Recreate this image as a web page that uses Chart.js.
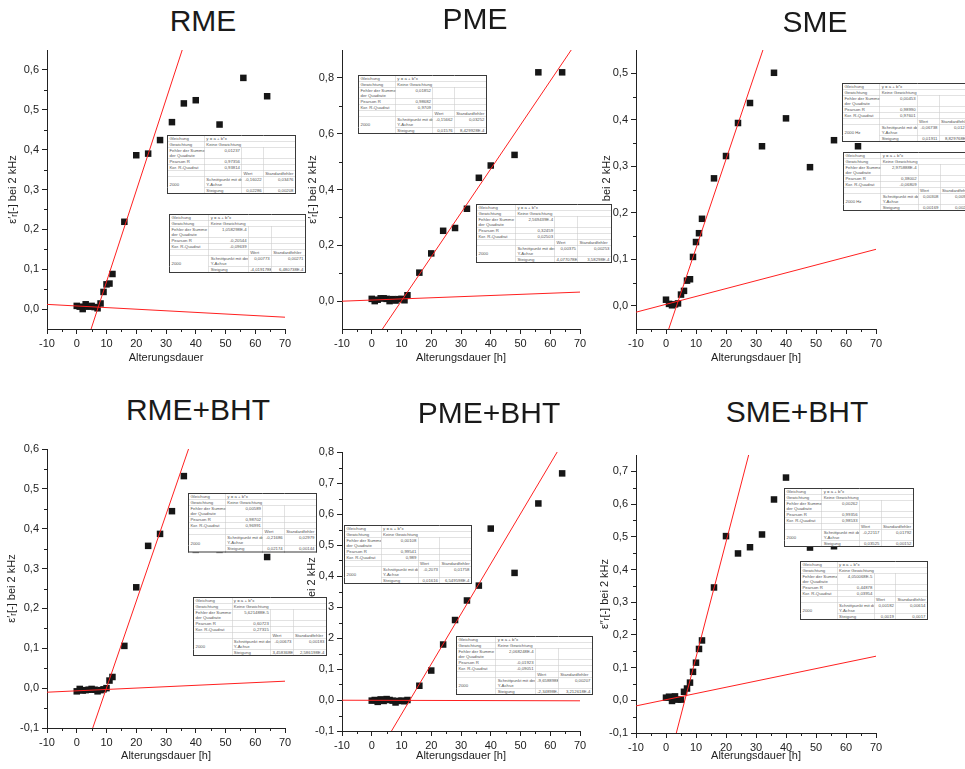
<!DOCTYPE html>
<html lang="de">
<head>
<meta charset="UTF-8">
<title>Alterungsdauer – Permittivität bei 2 kHz</title>
<script src="https://cdn.jsdelivr.net/npm/chart.js"></script>
<style>
  html, body { margin: 0; padding: 0; background: #fff; overflow: hidden; }
  body { position: relative; width: 965px; height: 769px; font-family: "Liberation Sans", Arial, sans-serif; }
  canvas { position: absolute; }
  .ptitle { position: absolute; font-size: 30px; line-height: 1; color: #1a1a1a; white-space: nowrap; transform: translate(-50%, -50%); }
  .fit { position: absolute; transform-origin: 0 0; transform: scale(0.5); background: #fff;
         border-collapse: collapse; table-layout: fixed; border: 2.5px solid #3a3a3a; z-index: 5;
         font-size: 8.6px; color: #555; }
  .fit td { border: 1px solid #c4c4c4; padding: 0 3px; vertical-align: top; line-height: 1.25; white-space: nowrap; overflow: hidden; }
  .fit td.n { text-align: right; }
  .fit td.mid { vertical-align: middle; }
</style>
</head>
<body>
<script>
// x-Achse (Alterungsdauer in h), gemeinsam für alle Diagramme
const xTickValues = [-10, 0, 10, 20, 30, 40, 50, 60, 70];

// RME
const rmeHours  = [0, 1, 2, 3, 4, 5, 6, 7, 8, 9, 10, 11, 12, 16, 20, 24, 28, 32, 36, 40, 48, 56, 64];
const rmeValues = [0.008, 0.006, 0.0, 0.012, 0.006, 0.008, 0.005, 0.002, 0.014, 0.043, 0.062, 0.064, 0.088,
                   0.219, 0.386, 0.39, 0.424, 0.469, 0.516, 0.524, 0.463, 0.58, 0.534];
const rmeYTicks = [0, 0.1, 0.2, 0.3, 0.4, 0.5, 0.6];
const rmeSteepFit = [-0.16022, 0.02286];      // Schnittpunkt, Steigung
const rmeFlatFit  = [0.00773, -4.019178e-4];
const rmeSteepTable = ['0,01237', '0,97356', '0,93814', '-0,16022', '0,03476', '0,02286', '0,00208'];
const rmeFlatTable  = ['1,058298E-4', '-0,20544', '-0,09639', '0,00773', '0,00271', '-4,019178E-4', '6,480738E-4'];

// PME
const pmeHours  = [0, 1, 2, 3, 4, 5, 6, 7, 8, 9, 10, 11, 12, 16, 20, 24, 28, 32, 36, 40, 48, 56, 64];
const pmeValues = [0.008, 0.0, 0.005, 0.01, 0.01, 0.008, 0.0, 0.007, 0.002, 0.007, 0.008, 0.003, 0.021,
                   0.102, 0.171, 0.252, 0.262, 0.331, 0.442, 0.486, 0.524, 0.82, 0.82];
const pmeYTicks = [0, 0.2, 0.4, 0.6, 0.8];
const pmeSteepFit = [-0.15662, 0.01576];
const pmeFlatFit  = [0.00375, 4.077078e-4];
const pmeSteepTable = ['0,01852', '0,98682', '0,9709', '-0,15662', '0,03252', '0,01576', '8,429928E-4'];
const pmeFlatTable  = ['2,569439E-4', '0,32459', '0,02503', '0,00375', '0,00253', '4,077078E-4', '3,58298E-4'];

// SME
const smeHours  = [0, 1, 2, 3, 4, 5, 6, 7, 8, 9, 10, 11, 12, 16, 20, 24, 28, 32, 36, 40, 48, 56, 64];
const smeValues = [0.013, 0.004, 0.001, 0.003, 0.005, 0.024, 0.032, 0.054, 0.057, 0.105, 0.137, 0.156, 0.187,
                   0.274, 0.322, 0.393, 0.436, 0.343, 0.501, 0.403, 0.298, 0.356, 0.343];
const smeYTicks = [0, 0.1, 0.2, 0.3, 0.4, 0.5];
const smeSteepFit = [-0.06738, 0.01911];
const smeFlatFit  = [0.00308, 0.00169];
const smeSteepTable = ['0,00453', '0,98990', '0,97601', '-0,06738', '0,01214', '0,01911', '8,829768E-4'];
const smeFlatTable  = ['2,975888E-4', '0,38002', '-0,06809', '0,00308', '0,00928', '0,00169', '0,00203'];

// RME+BHT
const rmeBhtHours  = [0, 1, 2, 3, 4, 5, 6, 7, 8, 9, 10, 11, 12, 16, 20, 24, 28, 32, 36, 40, 48, 64];
const rmeBhtValues = [-0.008, -0.002, -0.006, -0.005, -0.004, -0.002, -0.004, -0.008, -0.005, -0.003, 0.0, 0.019, 0.028,
                      0.106, 0.253, 0.357, 0.387, 0.444, 0.532, 0.347, 0.347, 0.329];
const rmeBhtYTicks = [-0.1, 0, 0.1, 0.2, 0.3, 0.4, 0.5, 0.6];
const rmeBhtSteepFit = [-0.21686, 0.02174];
const rmeBhtFlatFit  = [-0.00673, 3.458368e-4];
const rmeBhtSteepTable = ['0,00589', '0,98702', '0,96991', '-0,21686', '0,02979', '0,02174', '0,00144'];
const rmeBhtFlatTable  = ['5,621488E-5', '0,60723', '0,27315', '-0,00673', '0,00183', '3,458368E-4', '2,586198E-4'];

// PME+BHT
const pmeBhtHours  = [0, 1, 2, 3, 4, 5, 6, 7, 8, 9, 10, 11, 12, 16, 20, 24, 28, 32, 36, 40, 48, 56, 64];
const pmeBhtValues = [-0.002, 0.0, -0.006, 0.002, -0.003, 0.003, 0.0, -0.002, -0.008, -0.003, -0.002, -0.004, 0.0,
                      0.046, 0.095, 0.179, 0.258, 0.321, 0.369, 0.553, 0.41, 0.634, 0.731];
const pmeBhtYTicks = [-0.1, 0, 0.1, 0.2, 0.3, 0.4, 0.5, 0.6, 0.7, 0.8];
const pmeBhtSteepFit = [-0.2073, 0.01616];
const pmeBhtFlatFit  = [-9.658898e-4, -2.34898e-5];
const pmeBhtSteepTable = ['0,00108', '0,99541', '0,989', '-0,2073', '0,01758', '0,01616', '6,549598E-4'];
const pmeBhtFlatTable  = ['2,068248E-4', '-0,01923', '-0,09051', '-9,658898E-4', '0,00207', '-2,34898E-5', '3,212618E-4'];

// SME+BHT
const smeBhtHours  = [0, 1, 2, 3, 4, 5, 6, 7, 8, 9, 10, 11, 12, 16, 20, 24, 28, 32, 36, 40, 48, 56];
const smeBhtValues = [0.008, 0.011, -0.002, 0.012, 0.002, 0.002, 0.026, 0.036, 0.054, 0.087, 0.115, 0.157, 0.183,
                      0.345, 0.502, 0.449, 0.468, 0.507, 0.614, 0.681, 0.467, 0.471];
const smeBhtYTicks = [-0.1, 0, 0.1, 0.2, 0.3, 0.4, 0.5, 0.6, 0.7];
const smeBhtSteepFit = [-0.22117, 0.03525];
const smeBhtFlatFit  = [0.00182, 0.0019];
const smeBhtSteepTable = ['0,00262', '0,99356', '0,98533', '-0,22117', '0,01792', '0,03525', '0,00152'];
const smeBhtFlatTable  = ['4,050068E-5', '0,44878', '0,03954', '0,00182', '0,00614', '0,0019', '0,0017'];

const axisColor = '#222';
const labelOne = 'ε′ᵣ[-] bei 2 kHz';
const labelTwo = 'ε″ᵣ[-] bei 2 kHz';

// area = [links, oben, rechts, unten] des Plotbereichs in Seitenpixeln
const panels = [
  { title: 'RME', titleAt: [203, 21], hours: rmeHours, values: rmeValues, yTicks: rmeYTicks, yMin: -0.05, yMax: 0.65,
    steep: rmeSteepFit, flat: rmeFlatFit, yLabel: labelOne, xLabel: 'Alterungsdauer',
    area: [47, 50, 285, 329], yTitleX: 13, xTitleY: 358,
    tables: [[rmeSteepTable, '2000', 167, 135, 129, 57], [rmeFlatTable, '2000', 169, 214, 137, 57]] },
  { title: 'PME', titleAt: [475, 19], hours: pmeHours, values: pmeValues, yTicks: pmeYTicks, yMin: -0.1, yMax: 0.9,
    steep: pmeSteepFit, flat: pmeFlatFit, yLabel: labelOne, xLabel: 'Alterungsdauer [h]',
    area: [342, 50, 580, 329], yTitleX: 313, xTitleY: 358,
    tables: [[pmeSteepTable, '2000', 358, 75, 129, 57], [pmeFlatTable, '2000', 476, 204, 136, 57]] },
  { title: 'SME', titleAt: [815, 22], hours: smeHours, values: smeValues, yTicks: smeYTicks, yMin: -0.05, yMax: 0.55,
    steep: smeSteepFit, flat: smeFlatFit, yLabel: labelOne, xLabel: 'Alterungsdauer [h]',
    area: [636, 50, 876, 329], yTitleX: 607, xTitleY: 358,
    tables: [[smeSteepTable, '2000 Hz', 842, 83, 130, 57], [smeFlatTable, '2000 Hz', 843, 152, 130, 57]] },
  { title: 'RME+BHT', titleAt: [198, 410], hours: rmeBhtHours, values: rmeBhtValues, yTicks: rmeBhtYTicks, yMin: -0.1, yMax: 0.6,
    steep: rmeBhtSteepFit, flat: rmeBhtFlatFit, yLabel: labelOne, xLabel: 'Alterungsdauer [h]',
    area: [47, 449, 285, 728], yTitleX: 12, xTitleY: 756,
    tables: [[rmeBhtSteepTable, '2000', 188, 493, 129, 58], [rmeBhtFlatTable, '2000', 193, 597, 134, 56]] },
  { title: 'PME+BHT', titleAt: [489, 413], hours: pmeBhtHours, values: pmeBhtValues, yTicks: pmeBhtYTicks, yMin: -0.1, yMax: 0.8,
    steep: pmeBhtSteepFit, flat: pmeBhtFlatFit, yLabel: labelOne, xLabel: 'Alterungsdauer [h]',
    area: [342, 452, 580, 731], yTitleX: 312, xTitleY: 756,
    tables: [[pmeBhtSteepTable, '2000', 344, 525, 128, 57], [pmeBhtFlatTable, '2000', 456, 636, 137, 57]] },
  { title: 'SME+BHT', titleAt: [797, 412], hours: smeBhtHours, values: smeBhtValues, yTicks: smeBhtYTicks, yMin: -0.1, yMax: 0.75,
    steep: smeBhtSteepFit, flat: smeBhtFlatFit, yLabel: labelTwo, xLabel: 'Alterungsdauer [h]',
    area: [636, 455, 876, 733], yTitleX: 605, xTitleY: 756,
    tables: [[smeBhtSteepTable, '2000', 784, 488, 130, 57], [smeBhtFlatTable, '2000', 800, 561, 128, 57]] }
];

Chart.defaults.font.family = "'Liberation Sans', Arial, sans-serif";

// kleine Zwischenstriche (Origin-Stil) auf halbem Weg zwischen den Hauptstrichen
function midpoints(ticks) {
  const out = [];
  for (let i = 0; i < ticks.length - 1; i++) out.push((ticks[i].value + ticks[i + 1].value) / 2);
  return out;
}
const minorTicks = {
  id: 'minorTicks',
  afterDraw(chart) {
    const { ctx } = chart;
    const xs = chart.scales.x, ys = chart.scales.y;
    ctx.save();
    ctx.strokeStyle = axisColor;
    ctx.lineWidth = 1;
    ctx.beginPath();
    midpoints(xs.ticks).forEach(v => {
      const p = Math.round(xs.getPixelForValue(v)) + 0.5;
      ctx.moveTo(p, xs.top); ctx.lineTo(p, xs.top + 3);
    });
    midpoints(ys.ticks).forEach(v => {
      const p = Math.round(ys.getPixelForValue(v)) + 0.5;
      ctx.moveTo(ys.right, p); ctx.lineTo(ys.right - 3, p);
    });
    ctx.stroke();
    ctx.restore();
  }
};

function fitLine(fit) {
  // Gerade y = a + b*x über den ganzen x-Bereich, wird am Plotbereich abgeschnitten
  return [-10, 70].map(x => ({ x: x, y: fit[0] + fit[1] * x }));
}

function fitTable(vals, label, left, top, w, h) {
  const t = document.createElement('table');
  t.className = 'fit';
  t.style.left = left + 'px';
  t.style.top = top + 'px';
  t.style.width = (w * 2) + 'px';
  t.style.height = (h * 2) + 'px';
  const u = (h * 2 - 3) / 10;
  t.innerHTML = `
    <colgroup><col style="width:29%"><col style="width:29%"><col style="width:17%"><col style="width:25%"></colgroup>
    <tr style="height:${u}px"><td>Gleichung</td><td colspan="3">y = a + b*x</td></tr>
    <tr style="height:${u}px"><td>Gewichtung</td><td colspan="3">Keine Gewichtung</td></tr>
    <tr style="height:${2 * u}px"><td>Fehler der Summe<br>der Quadrate</td><td class="n">${vals[0]}</td><td></td><td></td></tr>
    <tr style="height:${u}px"><td>Pearson R</td><td class="n">${vals[1]}</td><td></td><td></td></tr>
    <tr style="height:${u}px"><td>Kor. R-Quadrat</td><td class="n">${vals[2]}</td><td></td><td></td></tr>
    <tr style="height:${u}px"><td></td><td></td><td>Wert</td><td>Standardfehler</td></tr>
    <tr style="height:${2 * u}px"><td rowspan="2" class="mid">${label}</td><td>Schnittpunkt mit der<br>Y-Achse</td><td class="n">${vals[3]}</td><td class="n">${vals[4]}</td></tr>
    <tr style="height:${u}px"><td>Steigung</td><td class="n">${vals[5]}</td><td class="n">${vals[6]}</td></tr>`;
  document.body.appendChild(t);
}

panels.forEach(p => {
  const [L, T, R, B] = p.area;
  const cLeft = Math.round(p.yTitleX - 7);
  const cTop = T - 10;
  const cRight = R + 25;
  const cBottom = Math.round(p.xTitleY + 7);
  const yWidth = L - cLeft;
  const xHeight = cBottom - B;

  const canvas = document.createElement('canvas');
  canvas.width = cRight - cLeft;
  canvas.height = cBottom - cTop;
  canvas.style.left = cLeft + 'px';
  canvas.style.top = cTop + 'px';
  document.body.appendChild(canvas);

  const title = document.createElement('div');
  title.className = 'ptitle';
  title.textContent = p.title;
  title.style.left = p.titleAt[0] + 'px';
  title.style.top = p.titleAt[1] + 'px';
  document.body.appendChild(title);

  new Chart(canvas.getContext('2d'), {
    type: 'scatter',
    data: {
      datasets: [
        { type: 'line', data: fitLine(p.steep), borderColor: '#ff2020', borderWidth: 1, pointRadius: 0, order: 0 },
        { type: 'line', data: fitLine(p.flat), borderColor: '#ff2020', borderWidth: 1, pointRadius: 0, order: 1 },
        { data: p.hours.map((h, i) => ({ x: h, y: p.values[i] })), pointStyle: 'rect', pointRadius: 4.6,
          backgroundColor: '#161616', borderWidth: 0, order: 2 }
      ]
    },
    options: {
      responsive: false,
      animation: false,
      layout: { padding: { left: 0, top: 10, right: 25, bottom: 0 } },
      plugins: { legend: { display: false }, tooltip: { enabled: false } },
      scales: {
        x: {
          type: 'linear', min: -10, max: 70,
          afterBuildTicks: s => { s.ticks = xTickValues.map(v => ({ value: v })); },
          afterFit: s => { s.height = xHeight; s.paddingLeft = 0; s.paddingRight = 0; },
          grid: { drawOnChartArea: false, tickLength: 5, tickColor: axisColor },
          border: { color: axisColor, width: 1 },
          ticks: { autoSkip: false, maxRotation: 0, padding: 3, color: '#222', font: { size: 11 },
                   callback: v => String(v) },
          title: { display: true, text: p.xLabel, color: '#222', font: { size: 11 },
                   padding: { top: 0, bottom: cBottom - p.xTitleY - 6.6 } }
        },
        y: {
          type: 'linear', min: p.yMin, max: p.yMax,
          afterBuildTicks: s => { s.ticks = p.yTicks.map(v => ({ value: v })); },
          afterFit: s => { s.width = yWidth; s.paddingTop = 0; s.paddingBottom = 0; },
          grid: { drawOnChartArea: false, tickLength: 5, tickColor: axisColor },
          border: { color: axisColor, width: 1 },
          ticks: { autoSkip: false, padding: 3, color: '#222', font: { size: 11 },
                   callback: v => v.toFixed(1).replace('.', ',') },
          title: { display: true, text: p.yLabel, color: '#222', font: { size: 11 },
                   padding: { top: p.yTitleX - cLeft - 6.6, bottom: 0 } }
        }
      }
    },
    plugins: [minorTicks]
  });

  p.tables.forEach(t => fitTable(t[0], t[1], t[2], t[3], t[4], t[5]));
});
</script>
</body>
</html>
